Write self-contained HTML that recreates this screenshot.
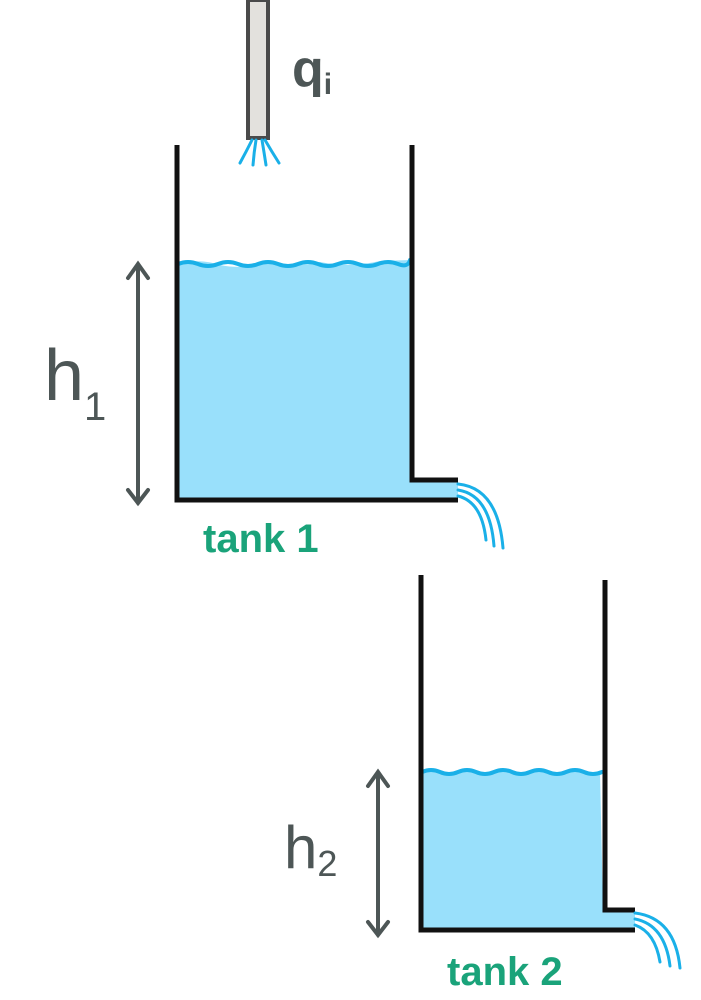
<!DOCTYPE html>
<html><head><meta charset="utf-8"><style>
html,body{margin:0;padding:0;background:#fff;width:701px;height:1000px;overflow:hidden}
svg{display:block}
text{font-family:"Liberation Sans",sans-serif}
</style></head><body>
<svg width="701" height="1000" viewBox="0 0 701 1000">
  <g>
    <rect x="248" y="0" width="20" height="138" fill="#e3e1dd" stroke="#4a4a4a" stroke-width="4"/>
    <g stroke="#1ab0e8" stroke-width="3" fill="none" stroke-linecap="round">
      <path d="M252 140 Q246 152 240 163"/>
      <path d="M256 140 Q254 152 253 165"/>
      <path d="M262 140 Q264 152 266 165"/>
      <path d="M265 140 Q272 152 279 163"/>
    </g>
  </g>
  <text x="292" y="86" font-size="52" font-weight="bold" fill="#4d5656">q<tspan font-size="30" dy="8">i</tspan></text>

  <g>
    <path d="M178 264 Q200 258 220 265 Q245 270 270 262 Q295 268 320 262 Q350 268 380 261 L410 260 L410 480 L458 480 L458 500 L178 500 Z" fill="#99e0fb"/>
    <path d="M178 264 q10-4 20 0 t20 0 t20 0 t20 0 t20 0 t20 0 t20 0 t20 0 t20 0 t20 0 t20 0 t12 -4" fill="none" stroke="#1ab0e8" stroke-width="4" stroke-linecap="round"/>
    <path d="M177 145 L177 500 L458 500 M412 145 L412 480 L458 480" fill="none" stroke="#111" stroke-width="5"/>
    <g stroke="#1ab0e8" stroke-width="3" fill="none" stroke-linecap="round">
      <path d="M458 484 Q498 488 503 548"/>
      <path d="M458 490 Q490 495 494 546"/>
      <path d="M458 496 Q482 502 486 540"/>
    </g>
  </g>
  <g stroke="#4d5656" stroke-width="4" fill="none" stroke-linecap="round">
    <path d="M138 264 L138 503 M128 278 L138 264 L148 278 M128 490 L138 503 L148 490"/>
  </g>
  <text x="44" y="400" font-size="72" fill="#4d5656">h<tspan font-size="40" dy="20">1</tspan></text>
  <text x="203" y="552" font-size="40" font-weight="bold" fill="#1aa37a">tank 1</text>

  <g>
    <path d="M422 772 L600 772 L603 910 L635 910 L635 930 L422 930 Z" fill="#99e0fb"/>
    <path d="M422 772 q9-4 18 0 t18 0 t18 0 t18 0 t18 0 t18 0 t18 0 t18 0 t18 0 t18 0" fill="none" stroke="#1ab0e8" stroke-width="4" stroke-linecap="round"/>
    <path d="M421 575 L421 930 L635 930 M605 580 L605 910 L635 910" fill="none" stroke="#111" stroke-width="5"/>
    <g stroke="#1ab0e8" stroke-width="3" fill="none" stroke-linecap="round">
      <path d="M635 913 Q675 918 680 968"/>
      <path d="M635 919 Q665 925 670 966"/>
      <path d="M635 925 Q655 932 660 962"/>
    </g>
  </g>
  <g stroke="#4d5656" stroke-width="4" fill="none" stroke-linecap="round">
    <path d="M378 772 L378 935 M368 786 L378 772 L388 786 M368 922 L378 935 L388 922"/>
  </g>
  <text x="284" y="868" font-size="60" fill="#4d5656">h<tspan font-size="36" dy="8">2</tspan></text>
  <text x="447" y="985" font-size="40" font-weight="bold" fill="#1aa37a">tank 2</text>
</svg>
</body></html>
